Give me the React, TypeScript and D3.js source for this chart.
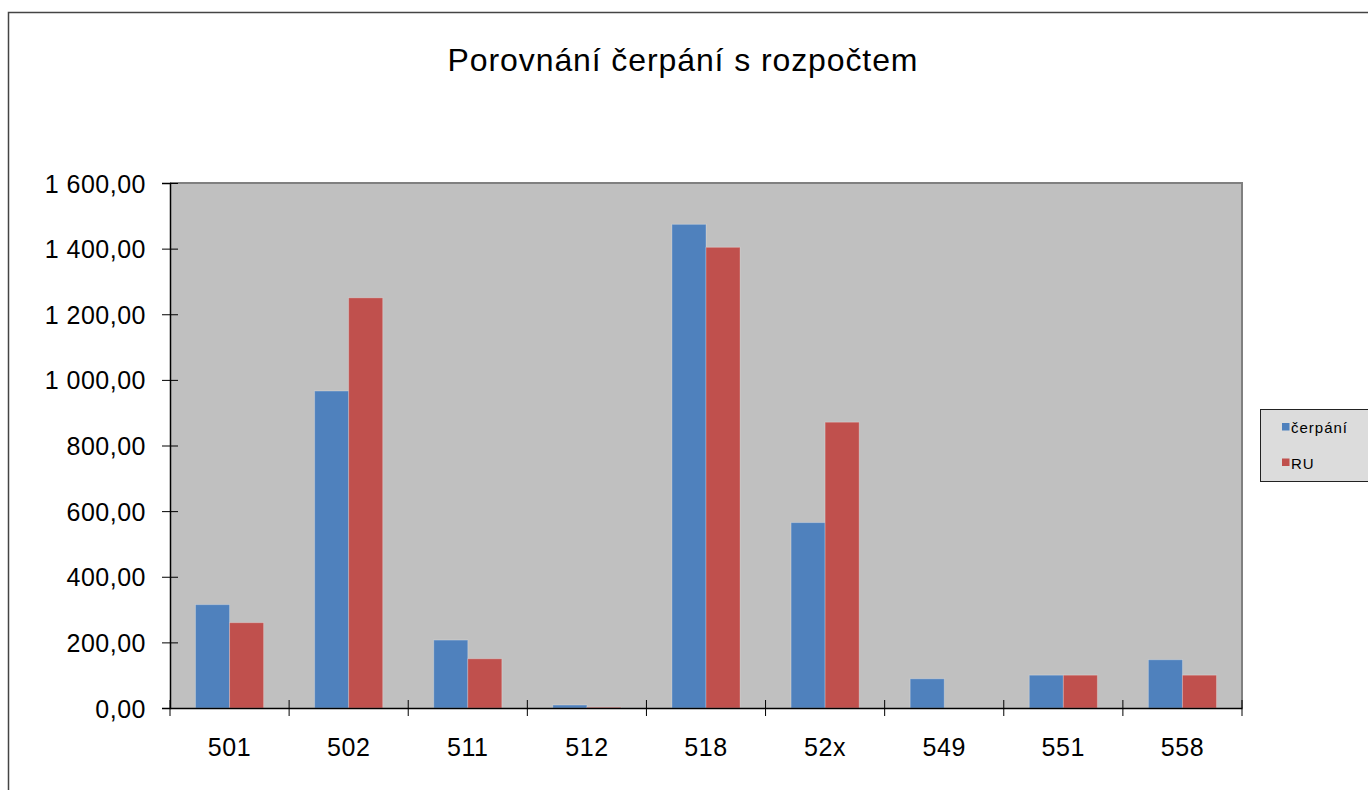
import React, { useEffect, useRef } from 'react';
import * as d3 from 'd3';

const categories = ['501', '502', '511', '512', '518', '52x', '549', '551', '558'];
const cerpani = [315, 966, 207, 9, 1474, 565, 89, 100, 147];
const ru = [260, 1250, 150, 2, 1404, 871, 0, 100, 100];
const yTicks = [0, 200, 400, 600, 800, 1000, 1200, 1400, 1600];
const seriesNames = ['čerpání', 'RU'];
const seriesColors = ['#4F81BD', '#C0504D'];

const W = 1368;
const H = 790;
const FONT = '"Liberation Sans", Arial, sans-serif';

const fmt = (v: number) => {
  const s = d3.format(',.2f')(v);
  return s.replace(/,/g, ' ').replace('.', ',');
};

const App: React.FC = () => {
  const ref = useRef<SVGSVGElement>(null);

  useEffect(() => {
    if (!ref.current) return;
    const svg = d3.select(ref.current);
    svg.selectAll('*').remove();

    const plot = { left: 170, right: 1242, top: 183, bottom: 708 };

    // outer chart border (clipped by the window)
    svg.append('rect')
      .attr('x', 8.5).attr('y', 12.5)
      .attr('width', W + 20).attr('height', H + 20)
      .attr('fill', '#fff').attr('stroke', '#444').attr('stroke-width', 1.5);

    svg.append('text')
      .attr('x', 683).attr('y', 71)
      .attr('text-anchor', 'middle')
      .attr('font-family', FONT).attr('font-size', 32)
      .attr('letter-spacing', 0.9)
      .text('Porovnání čerpání s rozpočtem');

    const x = d3.scaleBand<string>()
      .domain(categories)
      .range([plot.left, plot.right]);
    const bw = x.bandwidth() / 3.5;

    const y = d3.scaleLinear().domain([0, 1600]).range([plot.bottom, plot.top]);

    // plot area
    svg.append('rect')
      .attr('x', plot.left).attr('y', plot.top)
      .attr('width', plot.right - plot.left).attr('height', plot.bottom - plot.top)
      .attr('fill', '#C0C0C0');
    svg.append('path')
      .attr('d', `M${plot.left},${plot.top}H${plot.right}V${plot.bottom}`)
      .attr('fill', 'none').attr('stroke', '#808080').attr('stroke-width', 2);

    const series = [cerpani, ru];
    series.forEach((vals, si) => {
      svg.append('g').selectAll('rect')
        .data(vals)
        .enter().append('rect')
        .attr('x', (_, i) => x(categories[i])! + bw * 0.75 + si * bw)
        .attr('y', d => y(d))
        .attr('width', bw)
        .attr('height', d => plot.bottom - y(d))
        .attr('fill', seriesColors[si])
        .attr('stroke', d => (d > 0 ? 'rgba(255,255,255,0.25)' : 'none'))
        .attr('stroke-width', 1);
    });

    // y axis
    const yAxis = svg.append('g')
      .attr('transform', `translate(${plot.left},0)`)
      .call(d3.axisLeft(y).tickValues(yTicks).tickFormat(d => fmt(d as number)).tickSizeOuter(0).tickSize(8).tickPadding(16));
    yAxis.select('.domain').attr('stroke', '#000').attr('stroke-width', 1.5);
    yAxis.selectAll('.tick line').attr('x2', 8).attr('x1', -8).attr('stroke', '#000');
    yAxis.selectAll('.tick text')
      .attr('font-family', FONT).attr('font-size', 25).attr('fill', '#000')
      .attr('letter-spacing', 0.5).attr('dy', '0.36em');

    // x axis
    const xAxis = svg.append('g')
      .attr('transform', `translate(0,${plot.bottom})`)
      .call(d3.axisBottom(x).tickSize(0).tickPadding(30));
    xAxis.select('.domain').attr('stroke', '#000').attr('stroke-width', 1.5);
    xAxis.selectAll('.tick text')
      .attr('font-family', FONT).attr('font-size', 25).attr('fill', '#000')
      .attr('letter-spacing', 0.6);
    const bounds = categories.map(c => x(c)!).concat([plot.right]);
    xAxis.append('g').selectAll('line')
      .data(bounds)
      .enter().append('line')
      .attr('x1', d => d).attr('x2', d => d)
      .attr('y1', -8).attr('y2', 8)
      .attr('stroke', '#000');

    // legend
    const lg = svg.append('g');
    lg.append('rect')
      .attr('x', 1260.5).attr('y', 409.5)
      .attr('width', 120).attr('height', 72)
      .attr('fill', '#DCDCDC').attr('stroke', '#222').attr('stroke-width', 1);
    seriesNames.forEach((n, i) => {
      const cy = 427 + i * 35.5;
      lg.append('rect')
        .attr('x', 1282).attr('y', cy - 4)
        .attr('width', 7.5).attr('height', 7.5)
        .attr('fill', seriesColors[i]);
      lg.append('text')
        .attr('x', 1291).attr('y', cy + 6)
        .attr('font-family', FONT).attr('font-size', 15)
        .attr('letter-spacing', 1)
        .text(n);
    });
  }, []);

  return (
    <svg ref={ref} width={W} height={H}
      style={{ position: 'absolute', left: 0, top: 0, background: '#fff' }} />
  );
};

export default App;
